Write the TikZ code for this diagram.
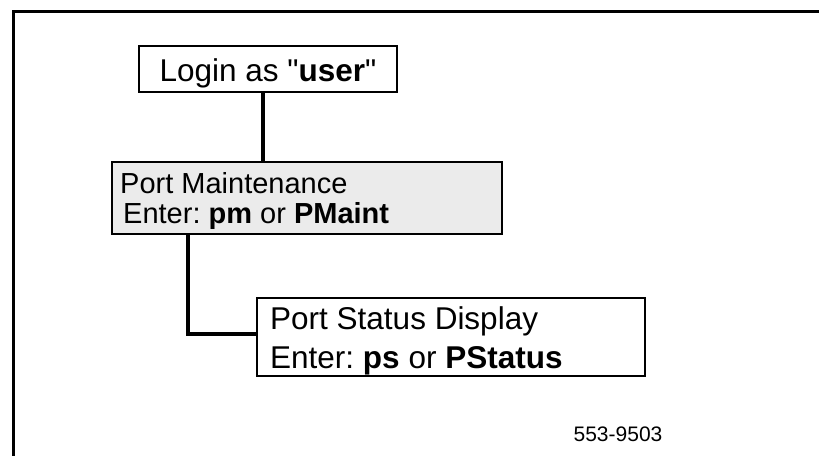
\documentclass[tikz,border=0pt]{standalone}
\usepackage{fontspec}
\setmainfont{Liberation Sans}[Ligatures=TeXOff]
\frenchspacing
\definecolor{pmgray}{HTML}{EBEBEB}
\begin{document}
\begin{tikzpicture}[x=1pt,y=-1pt,
  box/.style={draw=black, line width=1.8pt, inner sep=0pt},
  conn/.style={line width=4.2pt},
  frameline/.style={line width=3pt},
  bigtxt/.style={inner sep=0pt, font=\fontsize{31.5}{36}\selectfont},
  pmtxt/.style={inner sep=0pt, font=\fontsize{29}{30}\selectfont},
  smalltxt/.style={inner sep=0pt, font=\fontsize{21}{24}\selectfont}]
\useasboundingbox (0,0) rectangle (819,455);
\draw[frameline] (819,11.5) -- (13.5,11.5) -- (13.5,456);

% boxes
\node[box, fill=white, minimum width=258pt, minimum height=46pt] (login) at (268,69) {};
\node[box, fill=pmgray, minimum width=390pt, minimum height=72pt] (pm) at (307,198) {};
\node[box, fill=white, minimum width=388pt, minimum height=78pt] (ps) at (451,337) {};

% texts
\node[bigtxt, anchor=base] (logintext) at (268,81) {Login as "\textbf{user}"};
\node[pmtxt, anchor=base west] (pmline1) at (120,193) {Port Maintenance};
\node[pmtxt, anchor=base west] (pmline2) at (123,223) {Enter: \textbf{pm} or \textbf{PMaint}};
\node[bigtxt, anchor=base west] (psline1) at (270,329) {Port Status Display};
\node[bigtxt, anchor=base west] (psline2) at (270,368) {Enter: \textbf{ps} or \textbf{PStatus}};
\node[smalltxt, anchor=base] (figno) at (618,441) {553-9503};

% connectors
\draw[conn] ([xshift=-5pt]login.south) -- ([xshift=-5pt]login.south |- pm.north);
\draw[conn] ([xshift=77pt]pm.south west) |- ([yshift=3pt]ps.west);
\end{tikzpicture}
\end{document}
